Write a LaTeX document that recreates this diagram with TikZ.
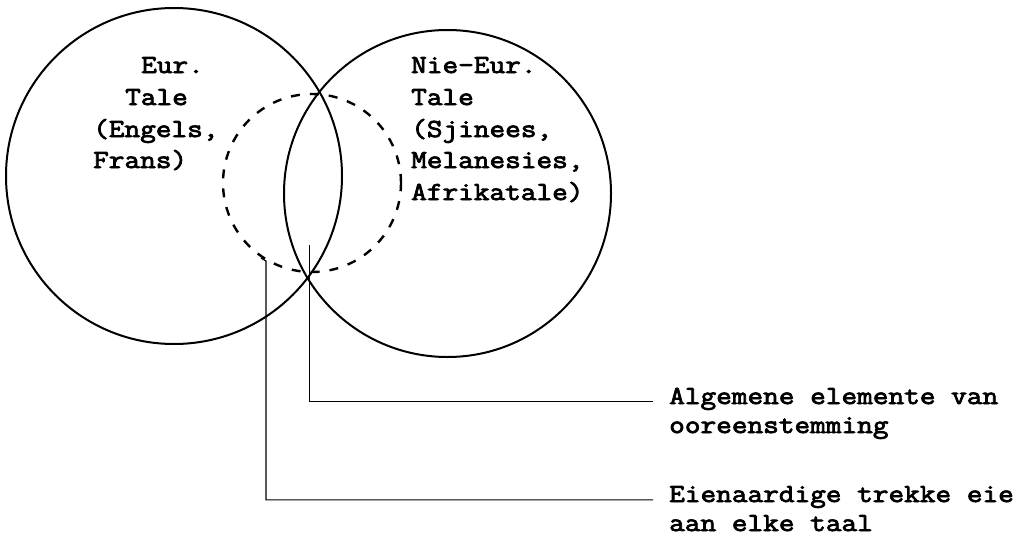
\documentclass[tikz,border=0pt]{standalone}
\usepackage{fontspec}
\newfontfamily\tw[FakeBold=3,FakeStretch=1.17]{Latin Modern Mono}
\begin{document}
\begin{tikzpicture}[x=1pt,y=-1pt,
  ring/.style={line width=2pt},
  dring/.style={line width=2.4pt, dash pattern=on 9pt off 10pt},
  leader/.style={line width=1.2pt},
  txt/.style={anchor=base west, inner sep=0pt, font=\tw\fontsize{26}{30}\selectfont}]
\useasboundingbox (0,0) rectangle (1024,538);
% circles
\draw[ring] (174,176) circle[radius=168pt];
\draw[ring] (447.5,193.5) circle[radius=163.5pt];
\draw[dring] (312,183) circle[radius=89pt];
% left circle text
\node[txt] (l1) at (141,73) {Eur.};
\node[txt] (l2) at (125,105) {Tale};
\node[txt] (l3) at (93,137) {(Engels,};
\node[txt] (l4) at (93,168) {Frans)};
% right circle text
\node[txt] (r1) at (411,73) {Nie-Eur.};
\node[txt] (r2) at (411,105) {Tale};
\node[txt] (r3) at (411,137) {(Sjinees,};
\node[txt] (r4) at (411,168) {Melanesies,};
\node[txt] (r5) at (411,200) {Afrikatale)};
% labels
\node[txt] (a1) at (669,404) {Algemene elemente van};
\node[txt] (a2) at (669,433) {ooreenstemming};
\node[txt] (b1) at (669,502) {Eienaardige trekke eie};
\node[txt] (b2) at (669,531) {aan elke taal};
% leaders
\coordinate (p1top) at (309.5,245);
\coordinate (p2hook) at (261,258);
\coordinate (p2top) at (266,261);
\draw[leader] (p1top) |- ([xshift=-16pt]a1.mid west);
\draw[leader] (p2hook) -- (p2top) |- ([xshift=-16pt]b1.mid west);
\end{tikzpicture}
\end{document}
